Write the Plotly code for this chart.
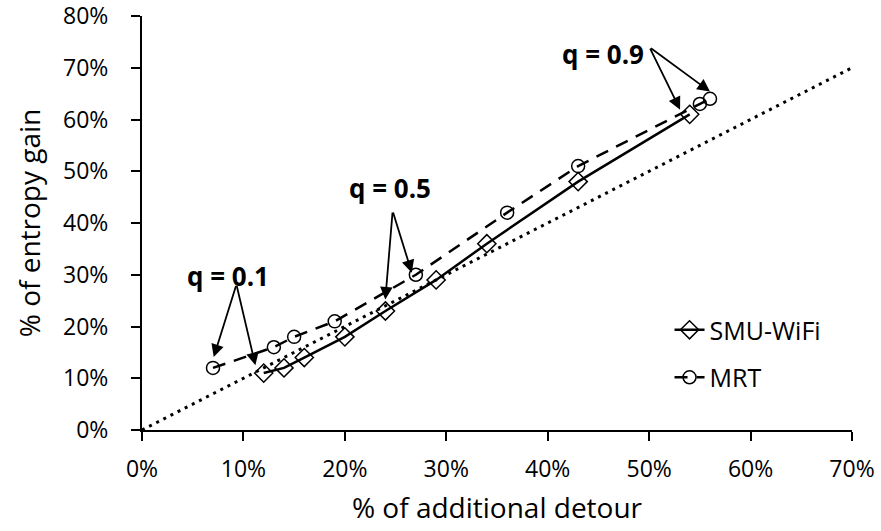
import plotly.graph_objects as go

# ---- data (fractions) ----
smu_x = [0.12, 0.14, 0.16, 0.20, 0.24, 0.29, 0.34, 0.43, 0.54]
smu_y = [0.11, 0.12, 0.14, 0.18, 0.23, 0.29, 0.36, 0.48, 0.61]
mrt_x = [0.07, 0.13, 0.15, 0.19, 0.27, 0.36, 0.43, 0.55, 0.56]
mrt_y = [0.12, 0.16, 0.18, 0.21, 0.30, 0.42, 0.51, 0.63, 0.64]
ref_x = [0.0, 0.70]
ref_y = [0.0, 0.70]

x_ticks = [0, 0.1, 0.2, 0.3, 0.4, 0.5, 0.6, 0.7]
y_ticks = [0, 0.1, 0.2, 0.3, 0.4, 0.5, 0.6, 0.7, 0.8]

# annotation labels: text, text position, arrow tail, arrow heads
q_labels = ["q = 0.1", "q = 0.5", "q = 0.9"]
q_text_pos = [(0.0852, 0.298), (0.2448, 0.467), (0.4547, 0.727)]
q_tails = [(0.0931, 0.281), (0.2471, 0.423), (0.5003, 0.740)]
q_heads = [[(0.0707, 0.141), (0.1118, 0.125)],
           [(0.2399, 0.252), (0.2660, 0.304)],
           [(0.5305, 0.619), (0.5600, 0.654)]]

FONT = "Open Sans"

fig = go.Figure()
fig.add_trace(go.Scatter(x=ref_x, y=ref_y, mode="lines", showlegend=False,
                         line=dict(color="black", width=3, dash="3px,5px"),
                         hoverinfo="skip"))
fig.add_trace(go.Scatter(x=smu_x, y=smu_y, mode="lines+markers", name="SMU-WiFi",
                         legendgroup="a",
                         line=dict(color="black", width=2.5),
                         marker=dict(symbol="diamond-open", size=14, color="black",
                                     line=dict(width=1.5, color="black"))))
fig.add_trace(go.Scatter(x=mrt_x, y=mrt_y, mode="lines+markers", name="MRT",
                         legendgroup="b",
                         line=dict(color="black", width=2.5, dash="13px,9px"),
                         marker=dict(symbol="circle-open", size=13, color="black",
                                     line=dict(width=1.5, color="black"))))

annotations = []
for lab, (tx, ty), (ax, ay), heads in zip(q_labels, q_text_pos, q_tails, q_heads):
    annotations.append(dict(x=tx, y=ty, xref="x", yref="y", text="<b>%s</b>" % lab,
                            showarrow=False, font=dict(family=FONT, size=26, color="black")))
    for hx, hy in heads:
        annotations.append(dict(x=hx, y=hy, xref="x", yref="y", ax=ax, ay=ay,
                                axref="x", ayref="y", text="", showarrow=True,
                                arrowhead=2, arrowsize=1.4, arrowwidth=1.8,
                                arrowcolor="black", standoff=0, startstandoff=0))

fig.update_layout(
    width=881, height=531,
    margin=dict(l=141.5, r=29, t=15.5, b=101),
    paper_bgcolor="white", plot_bgcolor="white",
    font=dict(family=FONT, color="black", size=23),
    annotations=annotations,
    showlegend=True,
    legend=dict(x=0.743, y=0.297, xanchor="left", yanchor="top",
                bgcolor="rgba(0,0,0,0)", font=dict(family=FONT, size=25),
                tracegroupgap=12, traceorder="grouped"),
    xaxis=dict(range=[0, 0.70001], tickvals=x_ticks, tickformat=".0%",
               automargin=False, ticklabeloverflow="allow",
               showgrid=False, zeroline=False, showline=True, linecolor="black",
               linewidth=2, ticks="outside", ticklen=9, tickwidth=2, tickcolor="black",
               ticklabelstandoff=8,
               title=dict(text="% of additional detour", font=dict(size=28), standoff=16)),
    yaxis=dict(range=[0, 0.80001], tickvals=y_ticks, tickformat=".0%",
               automargin=False, ticklabeloverflow="allow",
               showgrid=False, zeroline=False, showline=True, linecolor="black",
               linewidth=2, ticks="outside", ticklen=9, tickwidth=2, tickcolor="black",
               ticklabelstandoff=18,
               title=dict(text="% of entropy gain", font=dict(size=28), standoff=14)),
)

fig.write_html("out.html", config={"displayModeBar": False},
               post_script="document.body.style.margin='0px';document.body.style.overflow='hidden';")
